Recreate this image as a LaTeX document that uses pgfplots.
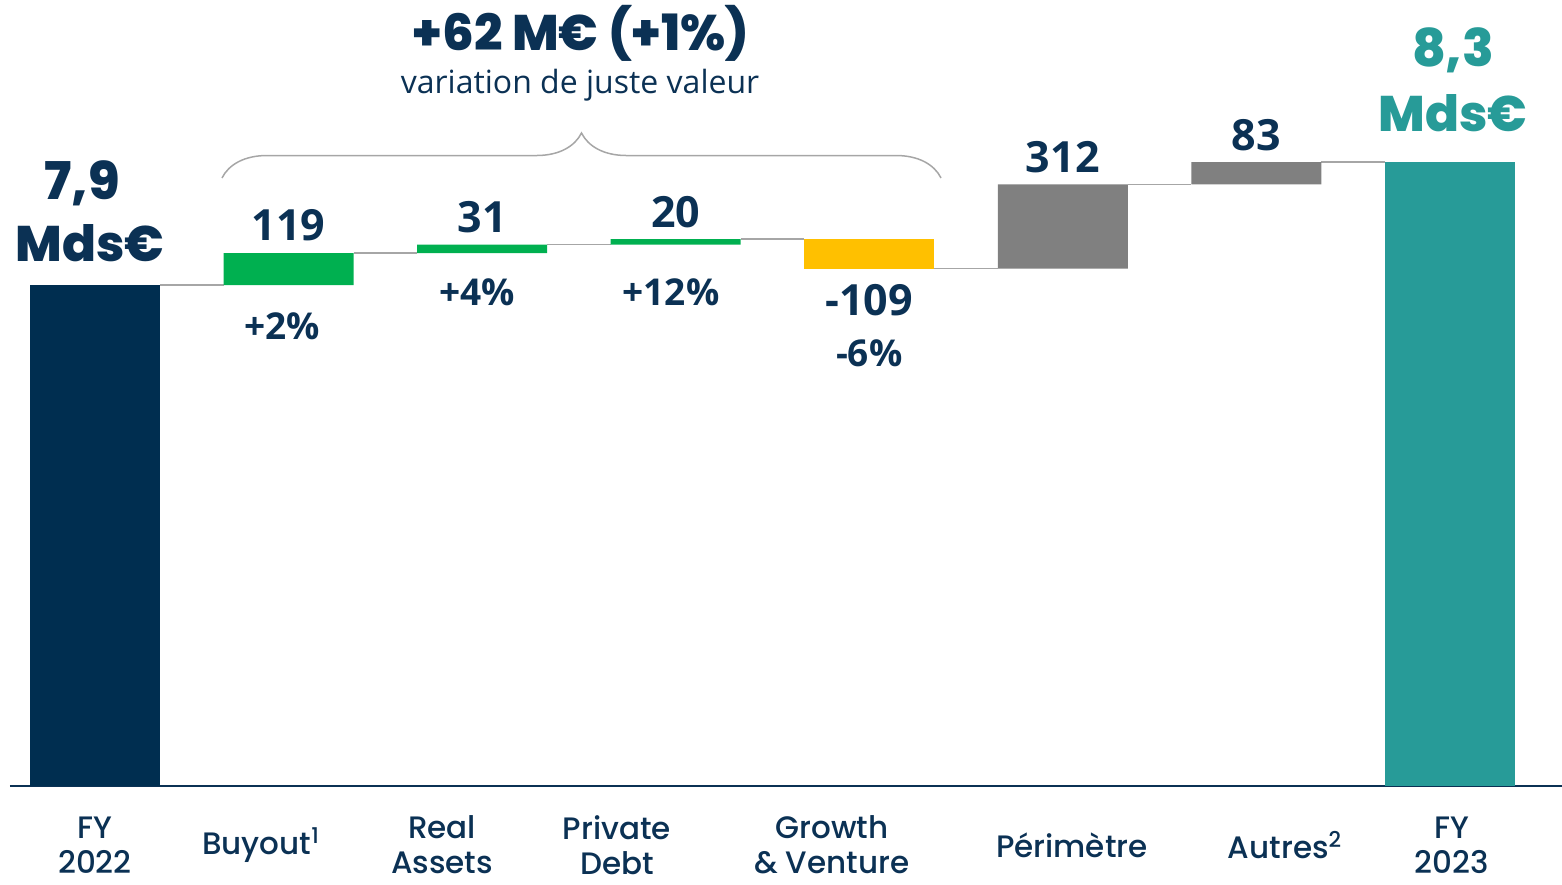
\documentclass[border=0pt]{standalone}
\usepackage{pgfplots}
\pgfplotsset{compat=1.18}
\usepackage{fontspec}
\setmainfont{Open Sans}
\newfontfamily\pop{Poppins}[UprightFont=* Medium, BoldFont=* ExtraBold]
\usetikzlibrary{decorations.pathreplacing}
\definecolor{navy}{HTML}{002E50}
\definecolor{txt}{HTML}{0B3154}
\definecolor{grn}{HTML}{00B050}
\definecolor{yel}{HTML}{FFC000}
\definecolor{gry}{HTML}{808080}
\definecolor{teal}{HTML}{279B98}
\definecolor{conn}{HTML}{A6A6A6}
\begin{document}
\begin{tikzpicture}
\begin{axis}[
  name=ax,
  scale only axis, width=776pt, height=393pt,
  xmin=-0.439, xmax=7.579, ymin=6043, ymax=8957,
  ybar stacked, bar width=65pt,
  clip=false,
  axis x line*=bottom, axis y line=none,
  x axis line style={draw=txt, line width=0.6pt, -},
  xtick={0,0.858,1.793,2.697,3.807,5.047,6.148,7.010},
  xticklabels={{FY\\2022},{Buyout\textsuperscript{1}},{Real\\Assets},{Private\\Debt},{Growth\\\& Venture},{Périmètre},{Autres\textsuperscript{2}},{FY\\2023}},
  xtick style={draw=none},
  xticklabel style={align=center, anchor=center, inner sep=0pt, yshift=-29.5pt, text=txt, font=\pop\fontsize{15.5}{17.5}\selectfont},
  ytick=\empty,
]
% invisible base
\addplot[fill=none, draw=none, forget plot] coordinates {(0,6043) (1,7900) (2,8019) (3,8050) (4,7961) (5,7961) (6,8273) (7,6043)};
\addplot[fill=navy, draw=none] coordinates {(0,1857) (1,0) (2,0) (3,0) (4,0) (5,0) (6,0) (7,0)};
\addplot[fill=grn, draw=none] coordinates {(0,0) (1,119) (2,31) (3,20) (4,0) (5,0) (6,0) (7,0)};
\addplot[fill=yel, draw=none] coordinates {(0,0) (1,0) (2,0) (3,0) (4,109) (5,0) (6,0) (7,0)};
\addplot[fill=gry, draw=none] coordinates {(0,0) (1,0) (2,0) (3,0) (4,0) (5,312) (6,83) (7,0)};
\addplot[fill=teal, draw=none] coordinates {(0,0) (1,0) (2,0) (3,0) (4,0) (5,0) (6,0) (7,2313)};
% connectors
\addplot[stack plots=false, sharp plot, draw=conn, line width=0.75pt, forget plot] coordinates {(0.336,7900) (0.664,7900)};
\addplot[stack plots=false, sharp plot, draw=conn, line width=0.75pt, forget plot] coordinates {(1.336,8019) (1.664,8019)};
\addplot[stack plots=false, sharp plot, draw=conn, line width=0.75pt, forget plot] coordinates {(2.336,8050) (2.664,8050)};
\addplot[stack plots=false, sharp plot, draw=conn, line width=0.75pt, forget plot] coordinates {(3.336,8070) (3.664,8070)};
\addplot[stack plots=false, sharp plot, draw=conn, line width=0.75pt, forget plot] coordinates {(4.336,7961) (4.664,7961)};
\addplot[stack plots=false, sharp plot, draw=conn, line width=0.75pt, forget plot] coordinates {(5.336,8273) (5.664,8273)};
\addplot[stack plots=false, sharp plot, draw=conn, line width=0.75pt, forget plot] coordinates {(6.336,8356) (6.664,8356)};
% brace
\draw[conn, line width=0.75pt, decorate, decoration={brace, amplitude=22.5pt}] (axis cs:0.656,8297) -- (axis cs:4.371,8297);
% labels
\node[text=txt, font=\pop\bfseries\fontsize{26}{28}\selectfont] at (axis cs:-0.067,8279) {7,9};
\node[text=txt, font=\pop\bfseries\fontsize{25}{28}\selectfont] at (axis cs:-0.026,8056) {Mds€};
\node[text=teal, font=\pop\bfseries\fontsize{26}{28}\selectfont] at (axis cs:7.016,8772) {8,3};
\node[text=teal, font=\pop\bfseries\fontsize{25}{28}\selectfont] at (axis cs:7.016,8538) {Mds€};
\node[text=txt, inner sep=0pt, font=\pop\bfseries\fontsize{25}{27}\selectfont] at (axis cs:2.511,8835) {+62 M€ (+1\%)};
\node[text=txt, inner sep=0pt, font=\fontsize{16}{18}\selectfont] at (axis cs:2.506,8642) {variation de juste valeur};
\node[text=txt, font=\bfseries\fontsize{21.5}{24}\selectfont] at (axis cs:1,8123) {119};
\node[text=txt, font=\bfseries\fontsize{21.5}{24}\selectfont] at (axis cs:2,8153) {31};
\node[text=txt, font=\bfseries\fontsize{21.5}{24}\selectfont] at (axis cs:3,8171) {20};
\node[text=txt, font=\bfseries\fontsize{21.5}{24}\selectfont] at (axis cs:5,8375) {312};
\node[text=txt, font=\bfseries\fontsize{21.5}{24}\selectfont] at (axis cs:6,8457) {83};
\node[text=txt, font=\bfseries\fontsize{21.5}{24}\selectfont] at (axis cs:4,7845) {-109};
\node[text=txt, font=\bfseries\fontsize{18.5}{20}\selectfont] at (axis cs:0.966,7749) {+2\%};
\node[text=txt, font=\bfseries\fontsize{18.5}{20}\selectfont] at (axis cs:1.973,7875) {+4\%};
\node[text=txt, font=\bfseries\fontsize{18.5}{20}\selectfont] at (axis cs:2.976,7875) {+12\%};
\node[text=txt, font=\bfseries\fontsize{18.5}{20}\selectfont] at (axis cs:4,7649) {-6\%};
\end{axis}
\pgfresetboundingbox
\path[use as bounding box] ([shift={(-5pt,-49pt)}]ax.south west) rectangle (ax.north east);
\end{tikzpicture}
\end{document}
